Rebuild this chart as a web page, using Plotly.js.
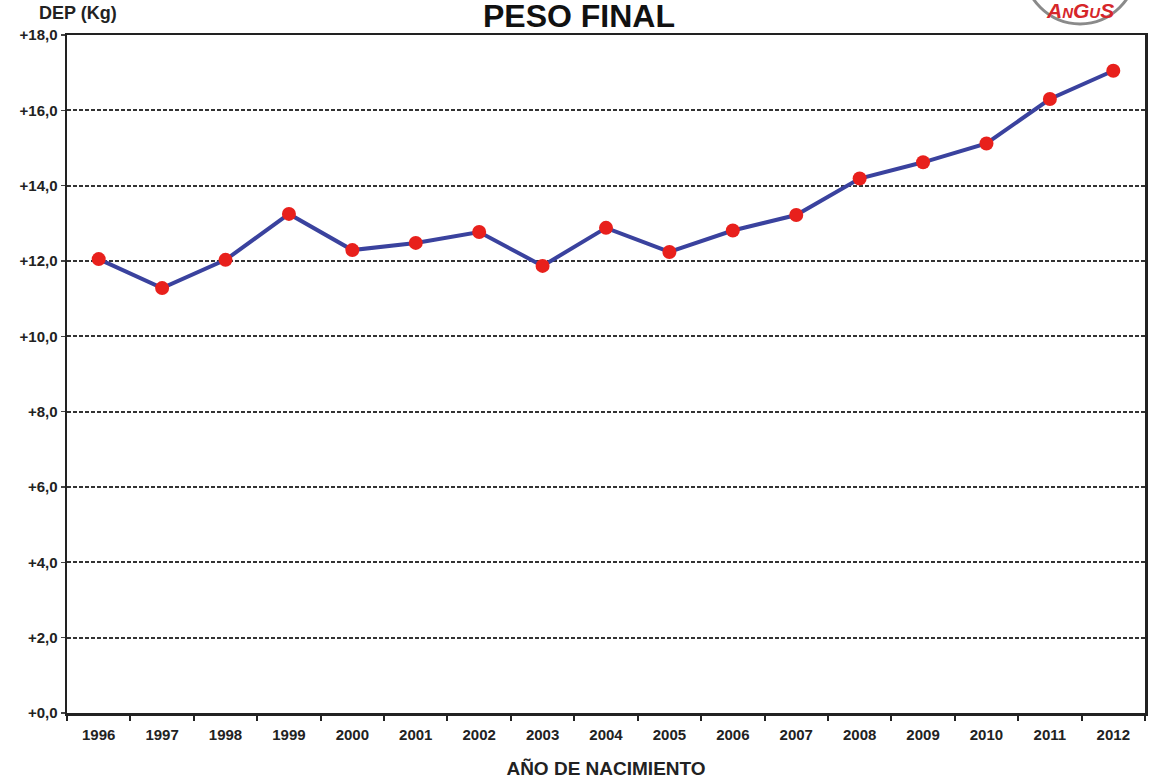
<!DOCTYPE html>
<html>
<head>
<meta charset="utf-8">
<script src="https://cdn.plot.ly/plotly-3.0.1.min.js"></script>
<style>html,body{margin:0;padding:0;background:#fff;}#chart{width:1150px;height:780px;}</style>
</head>
<body>
<div id="chart"></div>
<script>
const years = ["1996","1997","1998","1999","2000","2001","2002","2003","2004","2005","2006","2007","2008","2009","2010","2011","2012"];
const dep = [12.05, 11.28, 12.03, 13.25, 12.29, 12.48, 12.77, 11.87, 12.88, 12.24, 12.81, 13.22, 14.19, 14.62, 15.12, 16.30, 17.05];
const yTickVals = [0, 2, 4, 6, 8, 10, 12, 14, 16, 18];
const yTickText = ["+0,0", "+2,0", "+4,0", "+6,0", "+8,0", "+10,0", "+12,0", "+14,0", "+16,0", "+18,0"];
const chartTitle = "PESO FINAL";
const yLabel = "DEP (Kg)";
const xLabel = "AÑO DE NACIMIENTO";

const font = "Liberation Sans, Arial, sans-serif";

const trace = {
  x: years, y: dep, type: "scatter", mode: "lines+markers",
  line: {color: "#3a429e", width: 4},
  marker: {color: "#e8201c", size: 14},
  cliponaxis: false
};

const layout = {
  width: 1150, height: 780,
  margin: {l: 67, r: 5, t: 35, b: 67},
  paper_bgcolor: "#fff", plot_bgcolor: "#fff",
  showlegend: false,
  font: {family: font, color: "#222"},
  xaxis: {
    type: "category",
    range: [-0.5, years.length - 0.5],
    tickson: "boundaries",
    ticks: "outside", ticklen: 5, tickwidth: 2, tickcolor: "#222",
    ticklabelstandoff: 6,
    showline: true, linecolor: "#222", linewidth: 2.5, mirror: true,
    showgrid: false, zeroline: false,
    tickfont: {family: font, size: 15, color: "#222", weight: "bold"},
    title: {text: "<b>" + xLabel + "</b>", font: {family: font, size: 19, color: "#222"}, standoff: 20}
  },
  yaxis: {
    range: [0, 18],
    tickvals: yTickVals, ticktext: yTickText,
    ticks: "outside", ticklen: 4, tickwidth: 1.5, tickcolor: "#444",
    showline: true, linecolor: "#222", linewidth: 2.5, mirror: true,
    showgrid: true, gridcolor: "#333", gridwidth: 2, griddash: "4px,2px",
    zeroline: false,
    tickfont: {family: font, size: 15, color: "#222", weight: "bold"}
  },
  shapes: [
    {type: "circle", xref: "paper", yref: "paper",
     x0: 0.8878, x1: 0.9917, y0: 1.0163, y1: 1.1815,
     fillcolor: "#ffffff", line: {color: "#8a8a8a", width: 3}, layer: "above"}
  ],
  annotations: [
    {text: "<b>" + chartTitle + "</b>", xref: "paper", yref: "paper", x: 0.4752, y: 1.028,
     xanchor: "center", yanchor: "middle", showarrow: false,
     font: {family: font, size: 32, color: "#111"}},
    {text: "<b>" + yLabel + "</b>", xref: "paper", yref: "paper", x: -0.028, y: 1.033,
     xanchor: "left", yanchor: "middle", showarrow: false,
     font: {family: font, size: 18, color: "#222"}},
    {text: "<b><i>A<span style='font-size:15px'>N</span>G<span style='font-size:15px'>U</span>S</i></b>",
     xref: "paper", yref: "paper", x: 0.9397, y: 1.036,
     xanchor: "center", yanchor: "middle", showarrow: false,
     font: {family: font, size: 21, color: "#d6262a"}}
  ]
};

Plotly.newPlot("chart", [trace], layout, {displayModeBar: false, staticPlot: true});
</script>
</body>
</html>
